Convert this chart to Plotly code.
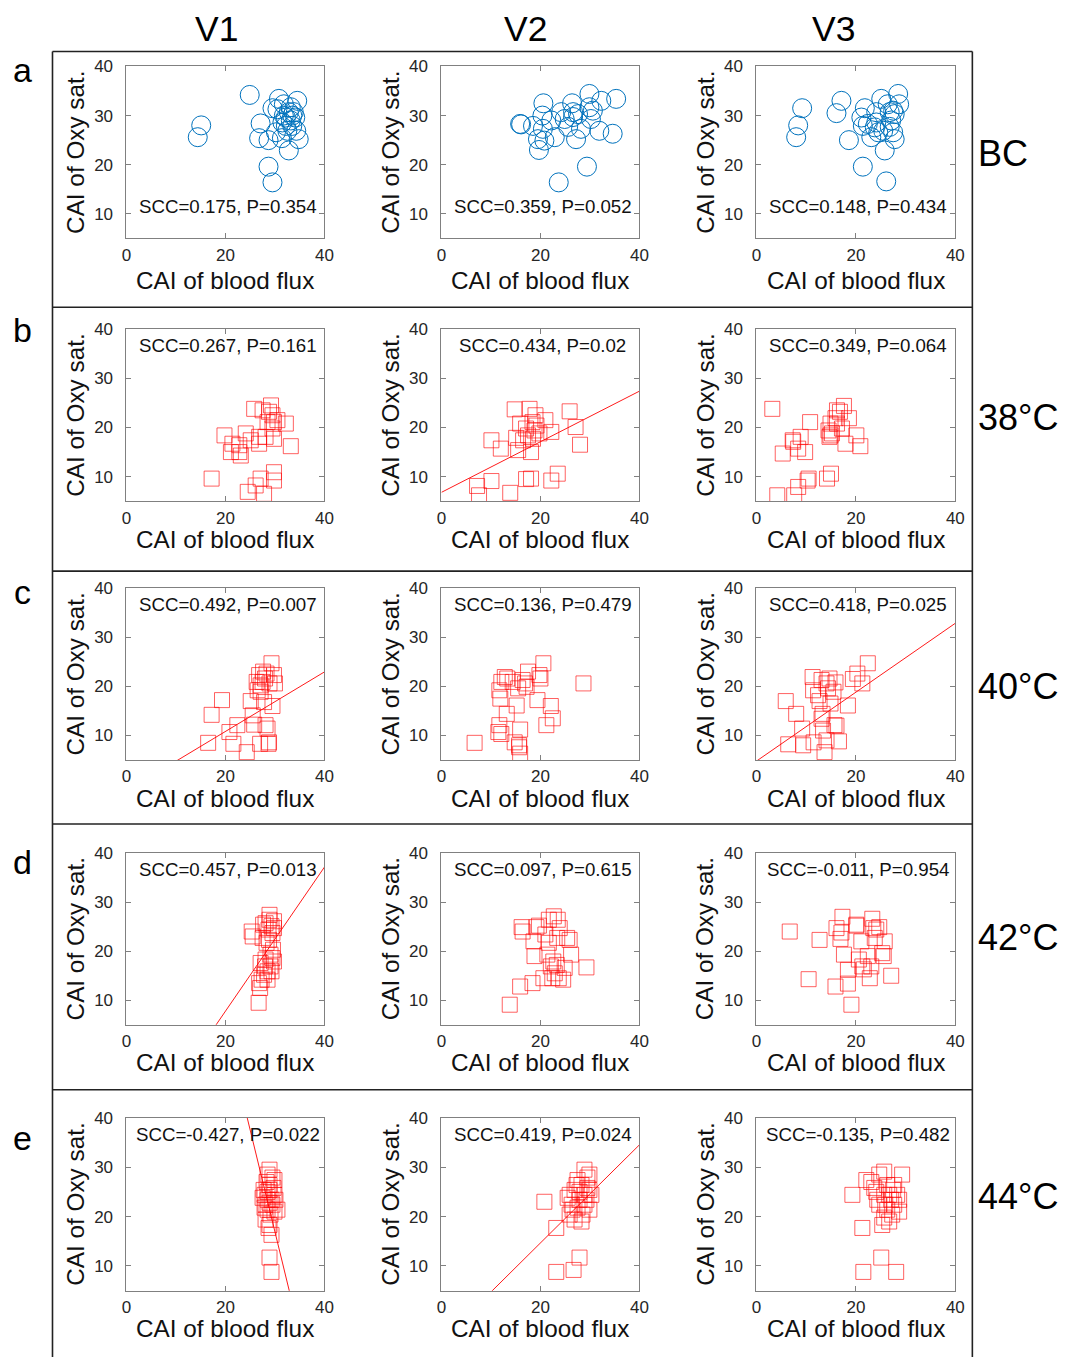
import plotly.graph_objects as go

W, H = 1065, 1357
# calibration of page position -> figure pixel (the photographed page shows a small offset/scale)
AX, BX = 5.5, 0.987
AY, BY = 8.5, 0.994

# ---------------- data ----------------
# Row a: BC (circles)
BC_V1_FLUX = [14.4, 15.1, 24.9, 27.1, 26.8, 28.7, 28.7, 29.5, 29.5, 30.8, 31.8, 30.2, 31.4, 32.8, 34.5,
              34.3, 32.2, 32.8, 33.5, 33.8, 32.2, 31.5, 33.2, 33.5, 30.5, 34.1, 32.5, 33.2, 31.8, 34.8]
BC_V1_OXY = [25.6, 28.0, 34.2, 28.4, 25.4, 25.0, 19.6, 16.4, 31.5, 33.4, 32.3, 26.6, 25.4, 22.9, 33.0,
             26.9, 29.6, 30.7, 30.0, 30.7, 27.9, 28.6, 29.0, 27.9, 31.3, 29.6, 26.9, 31.7, 30.0, 25.2]
BC_V2_FLUX = [15.9, 16.1, 18.5, 19.5, 19.7, 20.4, 20.6, 20.5, 20.8, 22.2, 22.9, 23.7, 24.2, 24.9, 25.6,
              26.4, 26.6, 27.2, 27.6, 28.2, 29.4, 29.9, 29.9, 30.6, 30.2, 31.9, 32.3, 35.3, 34.6, 26.6]
BC_V2_OXY = [28.3, 28.2, 27.9, 25.2, 23.0, 30.0, 32.5, 27.3, 24.9, 29.0, 25.6, 16.4, 30.7, 29.3, 27.7,
             32.5, 30.7, 25.2, 30.3, 27.3, 19.6, 34.4, 31.7, 31.0, 29.3, 26.9, 33.0, 33.4, 26.3, 29.7]
BC_V3_FLUX = [8.0, 8.4, 9.2, 16.1, 17.1, 18.6, 21.4, 21.1, 21.4, 21.8, 22.4, 23.1, 23.8, 24.1, 24.5,
              24.1, 25.1, 25.5, 25.8, 26.1, 26.4, 26.8, 27.1, 27.5, 27.8, 26.8, 28.5, 28.7, 27.8, 27.5]
BC_V3_OXY = [25.6, 28.0, 31.5, 30.5, 33.0, 25.0, 19.6, 29.6, 27.9, 31.5, 28.3, 25.6, 27.6, 28.6, 26.6,
             30.7, 33.4, 26.9, 22.9, 16.6, 32.3, 30.7, 29.0, 26.6, 25.2, 27.7, 34.4, 32.3, 30.3, 31.0]

# Row b: 38 °C
T38_V1_FLUX = [17.2, 19.8, 21.1, 21.4, 22.8, 22.8, 23.1, 24.1, 24.5, 25.1, 25.8, 26.1, 26.8, 26.8, 27.1,
               27.5, 27.8, 28.1, 28.5, 29.2, 29.5, 29.5, 29.8, 29.8, 29.8, 29.8, 30.5, 32.2, 33.2, 28.8]
T38_V1_OXY = [9.6, 18.4, 15.0, 16.7, 15.0, 16.4, 14.3, 18.8, 6.9, 17.4, 23.8, 8.2, 18.1, 16.7, 9.6,
              23.5, 6.5, 18.1, 21.1, 24.5, 22.5, 19.8, 21.1, 17.7, 10.9, 9.2, 21.5, 20.8, 16.2, 23.2]
T38_V2_FLUX = [7.2, 7.6, 10.1, 10.1, 12.0, 13.9, 14.8, 15.1, 15.5, 15.9, 17.1, 16.5, 17.5, 17.8, 18.1,
               18.1, 18.4, 18.5, 18.8, 19.0, 19.8, 21.0, 22.2, 22.2, 23.5, 25.9, 27.1, 28.0, 17.1, 19.2]
T38_V2_OXY = [8.1, 6.2, 9.1, 17.4, 15.7, 6.7, 23.7, 17.9, 15.4, 20.8, 9.5, 17.4, 18.4, 23.8, 15.0,
              9.6, 21.1, 17.7, 19.4, 22.5, 18.8, 21.5, 9.2, 19.1, 10.6, 23.3, 20.1, 16.5, 19.8, 20.4]
T38_V3_FLUX = [3.2, 4.2, 5.3, 7.3, 7.4, 7.6, 8.4, 8.4, 8.9, 9.8, 10.3, 10.5, 10.8, 14.2, 14.5,
               14.7, 14.9, 15.0, 15.2, 15.9, 16.2, 16.2, 17.2, 17.6, 17.9, 18.6, 20.1, 20.9, 16.8, 14.9]
T38_V3_OXY = [23.8, 6.2, 14.7, 17.4, 17.1, 6.2, 7.9, 15.7, 18.1, 15.0, 9.2, 9.6, 21.1, 9.6, 19.4,
              18.1, 20.8, 10.6, 18.8, 21.9, 20.8, 23.5, 19.8, 24.4, 16.7, 21.9, 18.4, 16.2, 23.2, 18.4]

# Row c: 40 °C
T40_V1_FLUX = [16.5, 17.2, 19.3, 20.8, 21.6, 22.4, 24.3, 25.1, 25.5, 25.8, 26.3, 26.5, 26.8, 27.0, 27.1,
               27.5, 27.6, 27.8, 28.0, 28.1, 28.3, 28.5, 28.7, 28.8, 28.9, 29.3, 29.5, 29.8, 30.0, 27.1]
T40_V1_OXY = [8.5, 14.2, 17.2, 10.7, 8.3, 12.1, 6.6, 17.0, 14.1, 12.2, 20.9, 19.2, 22.3, 8.3, 18.9,
              20.9, 23.0, 16.8, 21.6, 12.1, 22.6, 11.4, 8.3, 8.6, 20.6, 24.7, 16.0, 22.3, 20.6, 20.2]
T40_V2_FLUX = [6.7, 11.5, 11.7, 11.7, 11.9, 12.1, 12.8, 13.2, 13.3, 14.8, 15.2, 15.5, 15.7, 15.9, 15.9,
               16.4, 16.9, 17.5, 19.4, 19.8, 20.0, 20.6, 21.2, 22.1, 22.5, 28.7, 14.4, 17.2, 12.1, 15.7]
T40_V2_OXY = [8.5, 10.7, 12.1, 19.2, 17.5, 20.9, 21.9, 14.4, 21.6, 8.6, 16.1, 19.6, 7.6, 6.3, 11.2,
              21.3, 20.6, 23.0, 17.2, 22.3, 21.6, 24.7, 12.1, 16.0, 13.5, 20.6, 20.9, 19.9, 10.3, 8.0]
T40_V3_FLUX = [5.9, 6.4, 8.0, 9.4, 9.2, 11.3, 11.4, 11.5, 12.7, 13.1, 13.3, 13.4, 13.7, 14.1, 14.1,
               14.4, 14.9, 15.5, 15.7, 15.9, 16.1, 16.6, 18.4, 19.4, 20.3, 21.3, 22.4, 12.4, 13.1, 14.7]
T40_V3_OXY = [17.0, 8.2, 14.4, 8.0, 11.4, 21.9, 19.2, 8.6, 17.0, 21.3, 14.4, 11.0, 6.6, 20.6, 9.0,
              19.6, 16.5, 18.9, 12.1, 20.8, 12.0, 8.8, 16.1, 21.5, 22.6, 20.6, 24.7, 18.2, 13.4, 21.6]

# Row d: 42 °C
T42_V1_FLUX = [25.3, 25.5, 26.7, 26.8, 27.0, 27.1, 27.3, 27.6, 27.8, 28.0, 28.1, 28.3, 28.5, 28.5, 28.7,
               28.8, 28.9, 28.9, 29.1, 29.1, 29.3, 29.3, 29.5, 29.5, 29.6, 29.8, 29.8, 29.8, 27.5, 28.1]
T42_V1_OXY = [24.0, 23.0, 9.5, 13.5, 12.5, 17.6, 14.2, 25.4, 15.2, 16.9, 18.3, 21.7, 15.9, 14.2, 24.4,
              22.3, 26.4, 27.4, 19.3, 16.9, 25.1, 15.9, 18.6, 23.7, 20.3, 24.7, 26.1, 17.9, 22.7, 25.7]
T42_V2_FLUX = [13.8, 15.9, 16.2, 16.4, 18.4, 18.6, 18.8, 19.2, 19.7, 20.6, 21.0, 21.4, 21.7, 22.1, 22.4,
               22.6, 22.7, 22.9, 23.3, 23.4, 23.5, 23.7, 23.9, 24.6, 24.9, 25.4, 25.9, 26.2, 29.3, 21.7]
T42_V2_OXY = [9.1, 12.8, 24.9, 24.0, 13.5, 22.0, 19.0, 24.9, 25.2, 14.5, 23.4, 19.3, 26.4, 16.9, 14.5,
              17.9, 27.1, 15.5, 17.2, 22.7, 26.4, 14.5, 24.7, 14.2, 16.6, 22.7, 22.3, 19.3, 16.7, 21.7]
T42_V3_FLUX = [6.7, 10.5, 12.7, 15.9, 16.1, 16.9, 17.3, 17.6, 18.4, 18.4, 19.1, 20.1, 20.6, 21.1, 21.3,
               21.6, 22.4, 22.8, 23.1, 23.3, 23.5, 23.8, 24.1, 24.7, 25.3, 25.6, 25.8, 27.1, 20.1, 17.1]
T42_V3_OXY = [24.0, 14.3, 22.3, 12.8, 24.7, 22.5, 27.0, 19.3, 16.2, 13.4, 9.1, 25.2, 18.3, 22.0, 16.9,
              16.3, 19.0, 14.5, 16.9, 26.6, 24.7, 22.7, 24.4, 24.9, 19.6, 19.0, 22.0, 15.0, 25.4, 23.8]

# Row e: 44 °C
T44_V1_FLUX = [28.9, 29.3, 28.5, 28.9, 27.9, 29.3, 28.5, 29.9, 28.1, 28.9, 30.5, 27.7, 28.9, 29.9, 28.5,
               29.5, 28.1, 28.9, 29.9, 27.5, 29.1, 28.3, 29.7, 28.7, 29.3, 27.9, 30.1, 28.5, 29.5, 28.9]
T44_V1_OXY = [11.7, 8.8, 28.5, 26.4, 24.4, 23.4, 21.4, 21.0, 19.4, 18.3, 21.4, 25.4, 25.4, 27.4, 23.4,
              22.4, 22.4, 29.5, 24.4, 23.8, 20.4, 27.0, 25.8, 17.7, 16.3, 21.8, 23.4, 25.0, 27.9, 22.8]
T44_V2_FLUX = [20.8, 23.2, 23.2, 26.7, 27.9, 25.9, 25.9, 26.9, 27.5, 27.9, 28.3, 28.9, 28.9, 29.5, 29.9,
               29.9, 26.3, 27.5, 28.5, 29.3, 29.9, 26.9, 27.9, 25.5, 28.9, 30.3, 27.3, 28.3, 29.5, 26.5]
T44_V2_OXY = [23.0, 17.7, 8.8, 9.2, 11.7, 20.4, 24.4, 25.4, 27.4, 23.4, 26.4, 29.5, 24.4, 27.9, 21.4,
              25.4, 22.4, 21.8, 20.4, 23.4, 28.5, 19.4, 25.0, 23.8, 22.4, 24.4, 26.4, 19.0, 25.8, 21.4]
T44_V3_FLUX = [19.3, 21.3, 21.5, 22.1, 23.7, 24.3, 25.1, 25.7, 25.7, 26.3, 26.3, 26.7, 27.1, 27.7, 27.7,
               28.1, 28.7, 29.3, 24.7, 25.7, 26.7, 27.3, 28.3, 23.1, 24.7, 25.9, 27.5, 28.7, 25.3, 24.1]
T44_V3_OXY = [24.4, 17.7, 8.8, 27.4, 25.8, 23.4, 11.7, 29.1, 24.4, 21.4, 26.4, 19.0, 23.4, 22.4, 26.4,
              8.8, 21.0, 28.5, 22.4, 19.8, 24.4, 20.4, 24.4, 27.0, 28.5, 22.4, 25.4, 23.4, 18.3, 25.0]

VISITS = ["V1", "V2", "V3"]
ROW_LETTERS = ["a", "b", "c", "d", "e"]
CONDITIONS = ["BC", "38°C", "40°C", "42°C", "44°C"]

SCC = [["0.175", "0.359", "0.148"],
       ["0.267", "0.434", "0.349"],
       ["0.492", "0.136", "0.418"],
       ["0.457", "0.097", "-0.011"],
       ["-0.427", "0.419", "-0.135"]]
PVAL = [["0.354", "0.052", "0.434"],
        ["0.161", "0.02", "0.064"],
        ["0.007", "0.479", "0.025"],
        ["0.013", "0.615", "0.954"],
        ["0.022", "0.024", "0.482"]]

# fitted regression lines (slope, intercept) where drawn; None = no line
FIT_SLOPE = [[None, None, None],
             [None, 0.515, None],
             [0.606, None, 0.702],
             [1.467, None, None],
             [-4.12, 0.993, None]]
FIT_INTERCEPT = [[None, None, None],
                 [None, 6.8, None],
                 [-1.30, None, 4.77],
                 [-21.55, None, None],
                 [140.5, -5.2, None]]

X_TICKS = [0, 20, 40]
Y_TICKS = [10, 20, 30, 40]
X_RANGE = [0, 40]
Y_RANGE = [5, 40]

FLUX = [[BC_V1_FLUX, BC_V2_FLUX, BC_V3_FLUX],
        [T38_V1_FLUX, T38_V2_FLUX, T38_V3_FLUX],
        [T40_V1_FLUX, T40_V2_FLUX, T40_V3_FLUX],
        [T42_V1_FLUX, T42_V2_FLUX, T42_V3_FLUX],
        [T44_V1_FLUX, T44_V2_FLUX, T44_V3_FLUX]]
OXY = [[BC_V1_OXY, BC_V2_OXY, BC_V3_OXY],
       [T38_V1_OXY, T38_V2_OXY, T38_V3_OXY],
       [T40_V1_OXY, T40_V2_OXY, T40_V3_OXY],
       [T42_V1_OXY, T42_V2_OXY, T42_V3_OXY],
       [T44_V1_OXY, T44_V2_OXY, T44_V3_OXY]]

# ---------------- layout geometry (target pixels on the page) ----------------
COL_PX = [(127, 325), (442, 640), (757, 956)]
ROW_PX = [(66, 238), (329, 501), (588, 760), (853, 1025), (1118, 1291)]

FONT = "Arial, Liberation Sans, sans-serif"
BLUE = "#0072BD"
RED = "rgba(255,0,0,0.62)"
AXCOL = "#808080"
TICKFONT = dict(family=FONT, size=17, color="#262626")


def px_x(p):
    return ((p - AX) / BX) / W


def px_y(p):
    return 1 - ((p - AY) / BY) / H


fig = go.Figure()
layout = dict(width=W, height=H, margin=dict(l=0, r=0, t=0, b=0),
              paper_bgcolor="white", plot_bgcolor="white", showlegend=False,
              hovermode=False)
annotations = []
shapes = []

for r in range(5):
    for c in range(3):
        k = r * 3 + c + 1
        xa = "x" if k == 1 else f"x{k}"
        ya = "y" if k == 1 else f"y{k}"
        xkey = "xaxis" if k == 1 else f"xaxis{k}"
        ykey = "yaxis" if k == 1 else f"yaxis{k}"
        x0, x1 = COL_PX[c]
        y0, y1 = ROW_PX[r]
        layout[xkey] = dict(domain=[px_x(x0), px_x(x1)], range=X_RANGE, anchor=ya,
                            tickvals=X_TICKS, ticks="inside", ticklen=5, tickcolor=AXCOL,
                            showline=True, linecolor=AXCOL, linewidth=1, mirror="ticks",
                            showgrid=False, zeroline=False, tickfont=TICKFONT,
                            ticklabelstandoff=1, fixedrange=True)
        layout[ykey] = dict(domain=[px_y(y1), px_y(y0)], range=Y_RANGE, anchor=xa,
                            tickvals=Y_TICKS, ticks="inside", ticklen=5, tickcolor=AXCOL,
                            showline=True, linecolor=AXCOL, linewidth=1, mirror="ticks",
                            showgrid=False, zeroline=False, tickfont=TICKFONT,
                            ticklabelstandoff=9, fixedrange=True)

        if r == 0:
            marker = dict(symbol="circle-open", size=19, color=BLUE, line=dict(width=1, color=BLUE))
        else:
            marker = dict(symbol="square-open", size=15, color=RED, line=dict(width=1, color=RED))
        fig.add_trace(go.Scatter(x=FLUX[r][c], y=OXY[r][c], mode="markers", marker=marker,
                                 xaxis=xa, yaxis=ya, cliponaxis=True))

        if FIT_SLOPE[r][c] is not None:
            s, b = FIT_SLOPE[r][c], FIT_INTERCEPT[r][c]
            fx = list(X_RANGE)
            fy = [b + s * v for v in fx]
            fig.add_trace(go.Scatter(x=fx, y=fy, mode="lines",
                                     line=dict(color="rgba(255,0,0,0.9)", width=1),
                                     xaxis=xa, yaxis=ya))

        # SCC / P text
        annotations.append(dict(text=f"SCC={SCC[r][c]}, P={PVAL[r][c]}", xref=xa, yref=ya,
                                x=20.5, y=11.5 if r == 0 else 36.7, showarrow=False,
                                xanchor="center", yanchor="middle",
                                font=dict(family=FONT, size=18.7, color="#111")))
        # axis titles
        annotations.append(dict(text="CAI of blood flux", xref=f"{xa} domain", yref=f"{ya} domain",
                                x=0.5, y=0, yshift=-(42 if r == 0 else 38), showarrow=False,
                                xanchor="center", yanchor="middle",
                                font=dict(family=FONT, size=24.3, color="#111")))
        annotations.append(dict(text="CAI of Oxy sat.", xref=f"{xa} domain", yref=f"{ya} domain",
                                x=0, y=0.5, xshift=-51, textangle=-90, showarrow=False,
                                xanchor="center", yanchor="middle",
                                font=dict(family=FONT, size=24.3, color="#111")))

# column headers
HEADER_X = [217, 526, 834]
for c, name in enumerate(VISITS):
    annotations.append(dict(text=name, xref="paper", yref="paper", x=px_x(HEADER_X[c]), y=px_y(29),
                            showarrow=False, xanchor="center", yanchor="middle",
                            font=dict(family=FONT, size=35.5, color="black")))

# row letters and condition labels
LETTER_Y = [70, 330, 592, 862, 1138]
COND_Y = [153, 417, 686, 938, 1197]
for r in range(5):
    annotations.append(dict(text=ROW_LETTERS[r], xref="paper", yref="paper", x=px_x(23),
                            y=px_y(LETTER_Y[r]), showarrow=False, xanchor="center",
                            yanchor="middle", font=dict(family=FONT, size=34, color="black")))
    annotations.append(dict(text=CONDITIONS[r], xref="paper", yref="paper", x=px_x(977),
                            y=px_y(COND_Y[r]), showarrow=False, xanchor="left",
                            yanchor="middle", font=dict(family=FONT, size=36, color="black")))

# frame lines
FRAME = dict(color="#222", width=1.6)
shapes.append(dict(type="line", xref="paper", yref="paper", x0=px_x(53), x1=px_x(53),
                   y0=px_y(51), y1=0, line=FRAME))
shapes.append(dict(type="line", xref="paper", yref="paper", x0=px_x(973), x1=px_x(973),
                   y0=px_y(51), y1=0, line=FRAME))
for yy in [51, 307, 571, 824, 1090]:
    shapes.append(dict(type="line", xref="paper", yref="paper", x0=px_x(53), x1=px_x(973),
                       y0=px_y(yy), y1=px_y(yy), line=FRAME))

layout["annotations"] = annotations
layout["shapes"] = shapes
fig.update_layout(**layout)
fig.write_html("out.html")
